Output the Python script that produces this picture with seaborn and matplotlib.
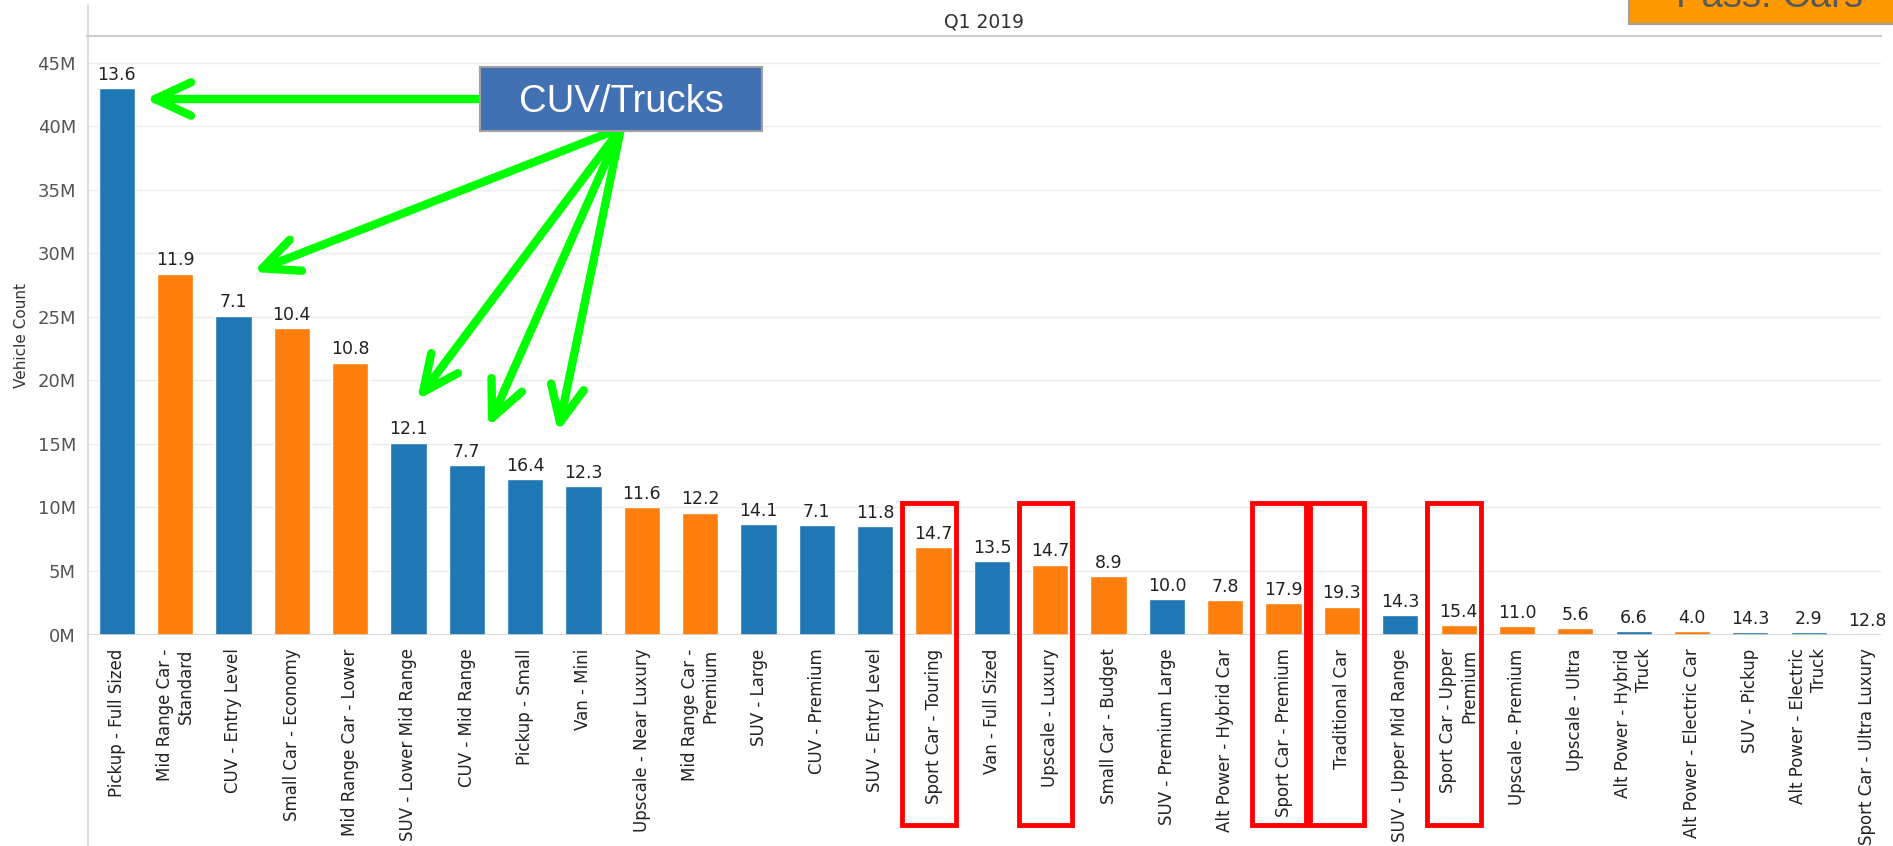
import matplotlib.pyplot as plt
import matplotlib.transforms as mtransforms
from matplotlib.lines import Line2D
from matplotlib.patches import Rectangle
import seaborn as sns
import pandas as pd

# data (counts in millions)
segments = ['Pickup - Full Sized', 'Mid Range Car -\nStandard', 'CUV - Entry Level',
            'Small Car - Economy', 'Mid Range Car - Lower', 'SUV - Lower Mid Range',
            'CUV - Mid Range', 'Pickup - Small', 'Van - Mini', 'Upscale - Near Luxury',
            'Mid Range Car -\nPremium', 'SUV - Large', 'CUV - Premium', 'SUV - Entry Level',
            'Sport Car - Touring', 'Van - Full Sized', 'Upscale - Luxury', 'Small Car - Budget',
            'SUV - Premium Large', 'Alt Power - Hybrid Car', 'Sport Car - Premium',
            'Traditional Car', 'SUV - Upper Mid Range', 'Sport Car - Upper\nPremium',
            'Upscale - Premium', 'Upscale - Ultra', 'Alt Power - Hybrid\nTruck',
            'Alt Power - Electric Car', 'SUV - Pickup', 'Alt Power - Electric\nTruck',
            'Sport Car - Ultra Luxury']
counts_m = [43.0, 28.4, 25.1, 24.1, 21.4, 15.1, 13.3, 12.2, 11.7, 10.0, 9.6, 8.7, 8.6, 8.5,
            6.9, 5.8, 5.5, 4.6, 2.8, 2.7, 2.5, 2.2, 1.5, 0.75, 0.67, 0.5, 0.3, 0.3, 0.2, 0.2, 0.03]
groups = ['CUV/Trucks', 'Pass. Cars', 'CUV/Trucks', 'Pass. Cars', 'Pass. Cars', 'CUV/Trucks',
          'CUV/Trucks', 'CUV/Trucks', 'CUV/Trucks', 'Pass. Cars', 'Pass. Cars', 'CUV/Trucks',
          'CUV/Trucks', 'CUV/Trucks', 'Pass. Cars', 'CUV/Trucks', 'Pass. Cars', 'Pass. Cars',
          'CUV/Trucks', 'Pass. Cars', 'Pass. Cars', 'Pass. Cars', 'CUV/Trucks', 'Pass. Cars',
          'Pass. Cars', 'Pass. Cars', 'CUV/Trucks', 'Pass. Cars', 'CUV/Trucks', 'CUV/Trucks',
          'Pass. Cars']
bar_labels = ['13.6', '11.9', '7.1', '10.4', '10.8', '12.1', '7.7', '16.4', '12.3', '11.6',
              '12.2', '14.1', '7.1', '11.8', '14.7', '13.5', '14.7', '8.9', '10.0', '7.8',
              '17.9', '19.3', '14.3', '15.4', '11.0', '5.6', '6.6', '4.0', '14.3', '2.9', '12.8']
y_ticks = [0, 5, 10, 15, 20, 25, 30, 35, 40, 45]
highlighted = ['Sport Car - Touring', 'Upscale - Luxury', 'Sport Car - Premium',
               'Traditional Car', 'Sport Car - Upper\nPremium']

df = pd.DataFrame({'Segment': segments, 'Count': counts_m, 'Group': groups})

W, H = 1893, 846


def fxy(x, y):
    # pixel position measured from the top-left corner -> figure fraction
    return (x / W, 1 - y / H)


sns.set_style("white")
plt.rcParams['font.family'] = ['DejaVu Sans']

fig = plt.figure(figsize=(W / 100, H / 100), dpi=100)
ax = fig.add_axes([87 / W, 1 - 634.5 / H, (1881 - 87) / W, (634.5 - 36) / H])

sns.barplot(data=df, x='Segment', y='Count', hue='Group', ax=ax, dodge=False,
            palette={'CUV/Trucks': '#1f77b4', 'Pass. Cars': '#ff7f0e'},
            width=0.62, saturation=1, legend=False, zorder=2)

ax.set_xlim(-0.51, len(segments) - 0.76)
ax.set_ylim(0, 47.1)
ax.set_yticks(y_ticks)
ax.set_yticklabels([f'{v}M' for v in y_ticks])
ax.yaxis.grid(True, color='#ececec', lw=1)
ax.set_axisbelow(True)
ax.axhline(0, color='#d4d4d4', lw=1.2, zorder=3)

for s in ['left', 'right', 'bottom']:
    ax.spines[s].set_visible(False)
ax.spines['top'].set_color('#cccccc')
ax.spines['top'].set_linewidth(1.5)

ax.tick_params(axis='y', length=0, pad=8, labelsize=13, labelcolor='#555555')
ax.tick_params(axis='x', length=0, pad=10, labelsize=12, labelcolor='#222222')
for t in ax.get_xticklabels():
    t.set_rotation(90)
    t.set_multialignment('right')

ax.set_xlabel('')
ax.set_ylabel('Vehicle Count', fontsize=11, color='#333333', labelpad=6)
ax.set_title('Q1 2019', fontsize=13.5, color='#333333', pad=6)

# value labels above bars
for i, (v, lab) in enumerate(zip(counts_m, bar_labels)):
    ax.annotate(lab, (i, v), xytext=(0, 3), textcoords='offset points',
                ha='center', va='bottom', fontsize=12.5, color='#222222')

# left border line running through the whole panel (Tableau style)
fig.add_artist(Line2D([88 / W, 88 / W], [0, 1 - 5 / H], color='#d6d6d6', lw=1.2))

# red boxes around selected labels
blend = mtransforms.blended_transform_factory(ax.transData, fig.transFigure)
for name in highlighted:
    i = segments.index(name)
    y0 = 1 - 825 / H
    y1 = 1 - 503 / H
    ax.add_patch(Rectangle((i - 0.08 - 0.46, y0), 0.92, y1 - y0, transform=blend,
                           fill=False, edgecolor='#ff0000', lw=3.5, clip_on=False, zorder=6))

# green arrows from the CUV/Trucks box
arrow_kw = dict(arrowstyle='->,head_length=1.3,head_width=0.6', color='#00ff00', lw=6,
                mutation_scale=20, shrinkA=0, shrinkB=0, capstyle='round', joinstyle='round')
tips = [(253, 272), (417, 400), (488, 427), (558, 432)]
ax.annotate('', xy=fxy(145, 99), xytext=fxy(482, 99), xycoords='figure fraction',
            textcoords='figure fraction', arrowprops=arrow_kw, zorder=7)
for tx, ty in tips:
    ax.annotate('', xy=fxy(tx, ty), xytext=fxy(621, 128), xycoords='figure fraction',
                textcoords='figure fraction', arrowprops=arrow_kw, zorder=7)

# CUV/Trucks callout box
bx0, by0 = fxy(480, 131)
bx1, by1 = fxy(762, 67)
fig.add_artist(Rectangle((bx0, by0), bx1 - bx0, by1 - by0, transform=fig.transFigure,
                         facecolor='#4170b3', edgecolor='#a0a0a0', lw=1.5, zorder=8))
fig.text(*fxy(621, 112), 'CUV/Trucks', ha='center', va='baseline', fontsize=27.5,
         color='white', family=['Liberation Sans', 'DejaVu Sans'], zorder=9)

# Pass. Cars callout box, cut off by the top edge as in the source
px0, py0 = fxy(1629, 24)
fig.add_artist(Rectangle((px0, py0), 1 - px0 + 0.01, 1 - py0 + 0.01, transform=fig.transFigure,
                         facecolor='#ff9900', edgecolor='#a0a0a0', lw=1.5, zorder=8))
fig.text(*fxy(1769, 7), 'Pass. Cars', ha='center', va='baseline', fontsize=27.5,
         color='#595959', family=['Liberation Sans', 'DejaVu Sans'], zorder=9)

fig.savefig('out.png', dpi=100)
